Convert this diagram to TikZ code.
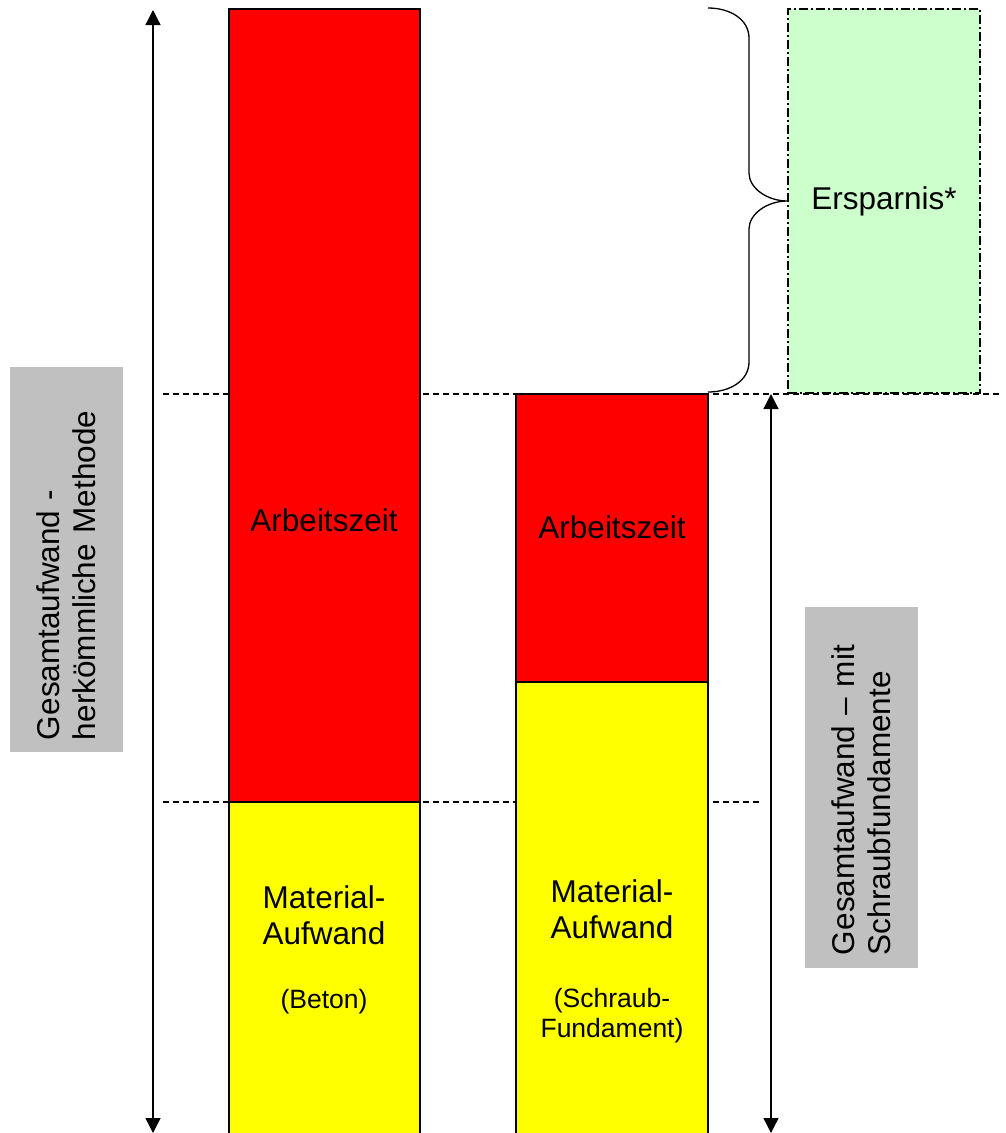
\documentclass[tikz,border=0pt]{standalone}
\usepackage{fontspec}
\setmainfont{Liberation Sans}
\usetikzlibrary{arrows.meta,positioning}
\definecolor{balkenrot}{HTML}{FF0000}
\definecolor{balkengelb}{HTML}{FFFF00}
\definecolor{sparfarbe}{HTML}{CCFFCC}
\definecolor{kastengrau}{HTML}{C0C0C0}
\begin{document}
\begin{tikzpicture}[x=1pt,y=-1pt,
  balken/.style={draw=black,line width=1.3pt},
  pfeil/.style={line width=1.3pt,{Triangle[length=15pt,width=15pt]}-{Triangle[length=15pt,width=15pt]}},
  linie/.style={line width=1.1pt,dash pattern=on 6pt off 4pt},
  gross/.style={font=\fontsize{31.5}{36}\selectfont,inner sep=0pt,anchor=base},
  klein/.style={font=\fontsize{26.5}{30}\selectfont,inner sep=0pt,anchor=base},
  kasten/.style={fill=kastengrau,rotate=90,align=left,font=\fontsize{31.5}{36}\selectfont,minimum height=113pt,inner xsep=12pt},
  sparbox/.style={fill=sparfarbe,draw=black,line width=1.1pt,dash pattern=on 9pt off 3pt on 2pt off 3pt,minimum width=192pt,minimum height=384pt,font=\fontsize{31.5}{36}\selectfont}]
\useasboundingbox (0,0) rectangle (1005,1133);
\draw[linie] (163,394) -- (1001,394);
\draw[linie] (163,802) -- (762,802);
\draw[balken,fill=balkenrot] (229,9) rectangle (420,802);
\draw[balken,fill=balkengelb] (229,802) rectangle (420,1145);
\draw[balken,fill=balkenrot] (516,394) rectangle (708,682);
\draw[balken,fill=balkengelb] (516,682) rectangle (708,1145);
\node[gross] (arbeit1) at (324,531) {Arbeitszeit};
\node[gross] (arbeit2) at (612,538) {Arbeitszeit};
\node[gross] (mat1) at (324,908) {Material-};
\node[gross] (auf1) at (324,944) {Aufwand};
\node[klein] (beton) at (324,1008) {(Beton)};
\node[gross] (mat2) at (612,902) {Material-};
\node[gross] (auf2) at (612,938) {Aufwand};
\node[klein] (schraub) at (612,1007) {(Schraub-};
\node[klein] (fund) at (612,1037) {Fundament)};
\node[sparbox] (ersparnis) at (884,201) {Ersparnis*};
\node[kasten,minimum width=385pt,text width=361pt] (alt) at (66.5,559.5) {Gesamtaufwand -\\herkömmliche Methode};
\node[kasten,minimum width=361pt,text width=335pt] (neu) at (861.5,787.5) {Gesamtaufwand – mit\\Schraubfundamente};
\coordinate (altoben) at (153,10);
\coordinate (altunten) at (153,1133);
\coordinate (neuoben) at (771,394);
\coordinate (neuunten) at (771,1133);
\draw[pfeil] (altoben) -- (altunten);
\draw[pfeil] (neuoben) -- (neuunten);
\coordinate (klammeroben) at (708,8);
\coordinate (klammerunten) at (708,392);
\draw[line width=1.3pt] (klammeroben) .. controls (731,8) and (749,20) .. (749,38) -- (749,173) .. controls (749,188) and (767,201) .. (ersparnis.west) .. controls (767,201) and (749,214) .. (749,229) -- (749,362) .. controls (749,380) and (731,392) .. (klammerunten);
\end{tikzpicture}
\end{document}
